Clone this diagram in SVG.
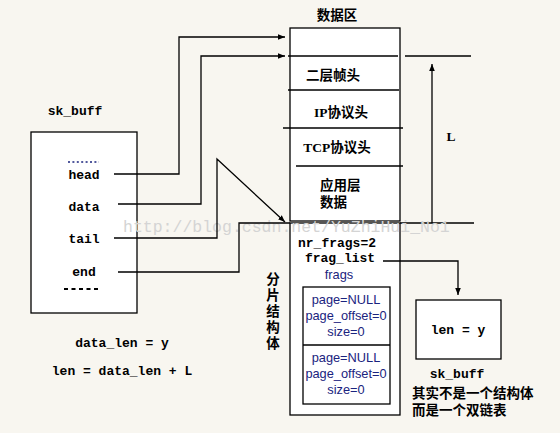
<svg xmlns="http://www.w3.org/2000/svg" width="560" height="433" viewBox="0 0 560 433">
<defs>
<marker id="ah" viewBox="0 0 10 10" refX="10" refY="5" markerWidth="7" markerHeight="7" markerUnits="userSpaceOnUse" orient="auto">
<path d="M0,1 L10,5 L0,9 Z" fill="#000"/>
</marker>
<style>
.box{fill:#fff;stroke:#000;stroke-width:1.3}
.ln{fill:none;stroke:#000;stroke-width:1.3}
.mono{font-family:"Liberation Mono","DejaVu Sans Mono",monospace;font-weight:bold;font-size:13px;fill:#000}
.cjk{font-family:"Liberation Serif","Noto Sans CJK SC",serif;font-weight:bold;font-size:13.5px;fill:#000}
.sans{font-family:"Liberation Sans","DejaVu Sans",sans-serif;font-size:12.8px;fill:#1a237e}
.wm{font-family:"Liberation Mono",monospace;font-size:16.5px;fill:#d4d4d4}
</style>
</defs>
<rect width="560" height="433" fill="#f8f6f0"/>

<g id="skbuff">
<rect class="box" x="31" y="132" width="106" height="181"/>
<text class="mono" x="75" y="115" text-anchor="middle">sk_buff</text>
<line x1="68" y1="162" x2="99" y2="162" stroke="#1a237e" stroke-width="1.3" stroke-dasharray="2 2.4"/>
<text class="mono" x="84" y="179" text-anchor="middle">head</text>
<text class="mono" x="84" y="211" text-anchor="middle">data</text>
<text class="mono" x="84" y="243" text-anchor="middle">tail</text>
<text class="mono" x="84" y="276" text-anchor="middle">end</text>
<line x1="64" y1="289" x2="100" y2="289" stroke="#000" stroke-width="2" stroke-dasharray="4 3.5"/>
</g>

<g id="formulas">
<text class="mono" x="122" y="347" text-anchor="middle">data_len = y</text>
<text class="mono" x="122" y="375" text-anchor="middle">len = data_len + L</text>
</g>

<g id="dataarea">
<text class="cjk" x="337" y="20" text-anchor="middle">数据区</text>
<rect class="box" x="290" y="28" width="110" height="193"/>
<line class="ln" x1="288" y1="56" x2="398" y2="56"/>
<line class="ln" x1="288" y1="90" x2="399" y2="90"/>
<line class="ln" x1="283" y1="128" x2="403" y2="128"/>
<line class="ln" x1="296" y1="166" x2="403" y2="166"/>
<text class="cjk" x="333" y="80" text-anchor="middle">二层帧头</text>
<text class="cjk" x="341" y="117" text-anchor="middle">IP协议头</text>
<text class="cjk" x="337" y="152" text-anchor="middle">TCP协议头</text>
<text class="cjk" x="320" y="190">应用层</text>
<text class="cjk" x="320" y="207">数据</text>
</g>

<g id="lengthL">
<line class="ln" x1="405" y1="56" x2="471" y2="56"/>
<line class="ln" x1="400" y1="223" x2="474" y2="223"/>
<line class="ln" x1="432" y1="223" x2="432" y2="64" marker-end="url(#ah)"/>
<text class="cjk" x="451" y="141" text-anchor="middle" font-size="15">L</text>
</g>

<g id="frags">
<rect class="box" x="290" y="223" width="110" height="192"/>
<text class="mono" x="337" y="247" text-anchor="middle">nr_frags=2</text>
<text class="mono" x="340" y="262" text-anchor="middle">frag_list</text>
<text class="sans" x="339" y="279" text-anchor="middle">frags</text>
<rect class="box" x="303" y="287" width="87" height="117"/>
<line class="ln" x1="303" y1="345" x2="390" y2="345"/>
<text class="sans" x="346" y="304" text-anchor="middle">page=NULL</text>
<text class="sans" x="346" y="320" text-anchor="middle">page_offset=0</text>
<text class="sans" x="346" y="336" text-anchor="middle">size=0</text>
<text class="sans" x="346" y="362" text-anchor="middle">page=NULL</text>
<text class="sans" x="346" y="378" text-anchor="middle">page_offset=0</text>
<text class="sans" x="346" y="394" text-anchor="middle">size=0</text>
<g class="cjk" text-anchor="middle">
<text x="273" y="284">分</text>
<text x="273" y="300">片</text>
<text x="273" y="316">结</text>
<text x="273" y="332">构</text>
<text x="273" y="348">体</text>
</g>
</g>

<g id="fraglist-skb">
<rect class="box" x="416" y="300" width="85" height="59"/>
<text class="mono" x="458" y="334" text-anchor="middle">len = y</text>
<text class="mono" x="457" y="378" text-anchor="middle">sk_buff</text>
<text class="cjk" x="412" y="398" font-size="14">其实不是一个结构体</text>
<text class="cjk" x="412" y="415" font-size="14">而是一个双链表</text>
</g>

<text class="wm" x="123" y="232">http://blog.csdn.net/YuZhiHui_No1</text>

<g id="connectors">
<polyline class="ln" points="114,174 179,174 179,37 285,37" marker-end="url(#ah)"/>
<polyline class="ln" points="118,204 201,204 201,56 285,56" marker-end="url(#ah)"/>
<polyline class="ln" points="114,238 217,238 217,159 285,222" marker-end="url(#ah)" stroke-width="1"/>
<polyline class="ln" points="118,272 239,272 239,223 290,223"/>
<polyline class="ln" points="383,261 458,261 458,295" marker-end="url(#ah)"/>
</g>
</svg>
